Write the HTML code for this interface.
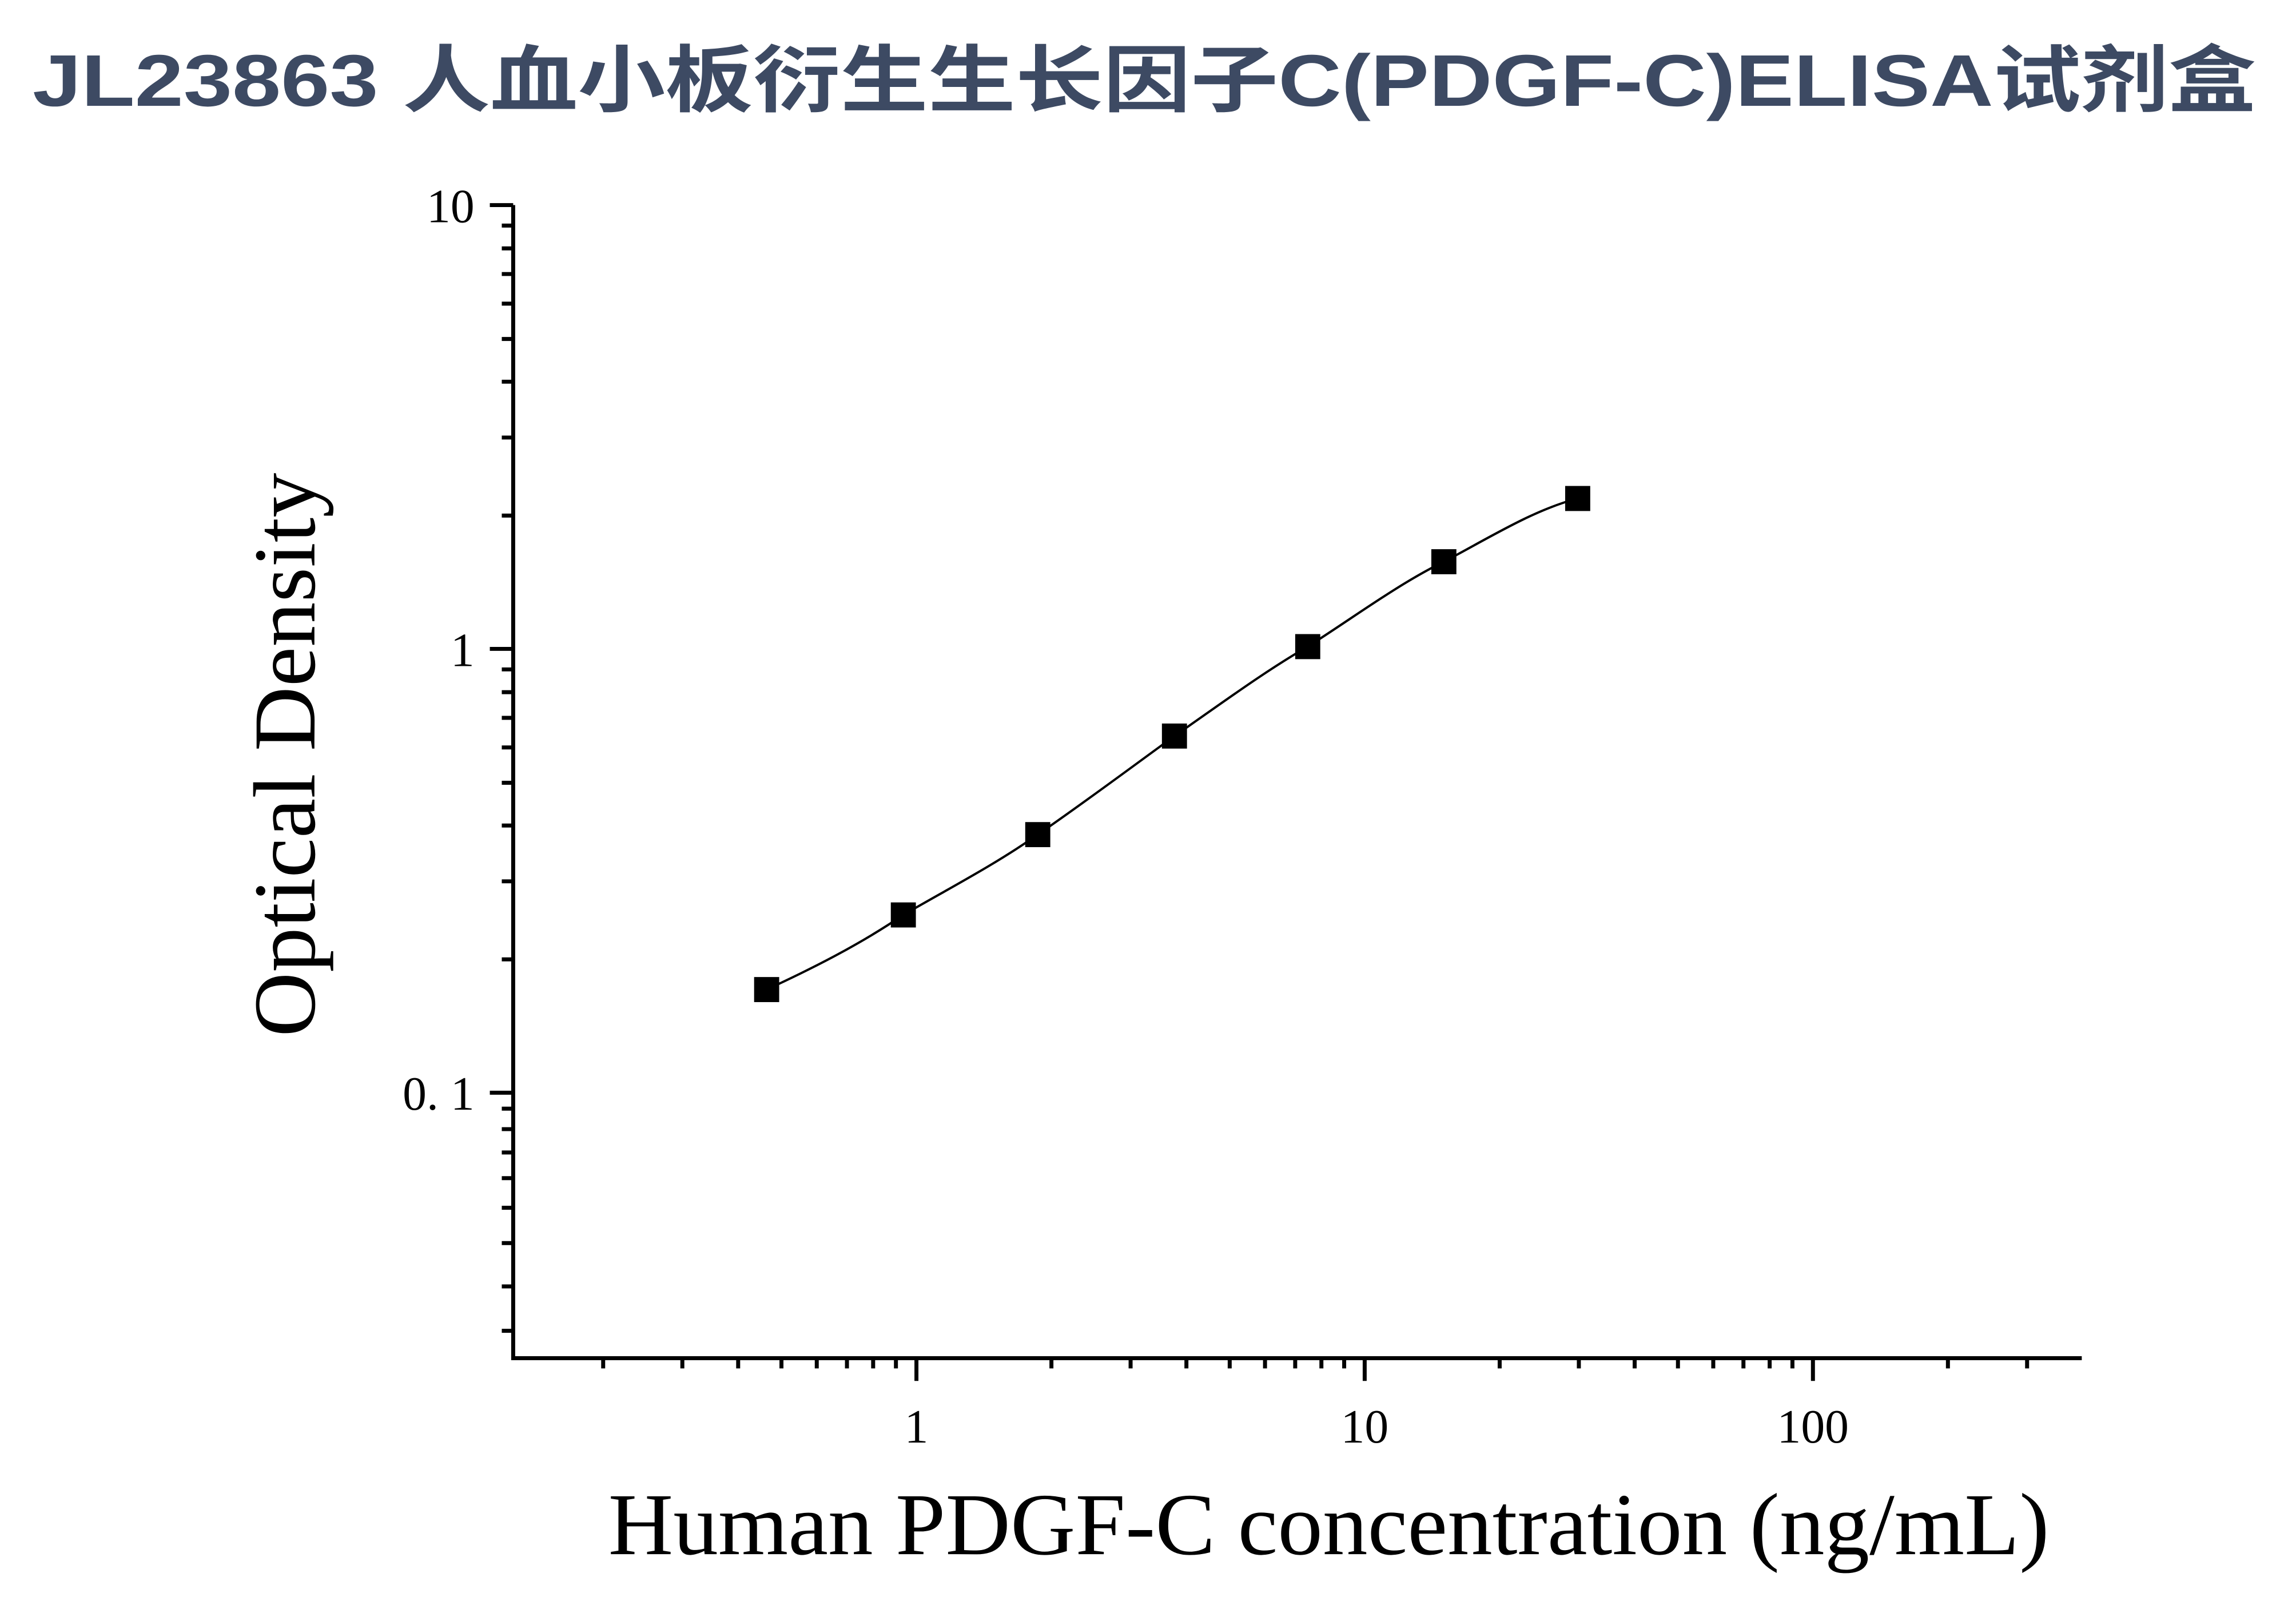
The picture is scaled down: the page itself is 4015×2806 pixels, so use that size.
<!DOCTYPE html>
<html><head><meta charset="utf-8"><style>
html,body{margin:0;padding:0;background:#fff;}
svg{display:block;}
</style></head><body>
<svg width="4015" height="2806" viewBox="0 0 4015 2806" xmlns="http://www.w3.org/2000/svg">
<rect width="4015" height="2806" fill="#fff"/>
<text x="57" y="185" font-family="'Liberation Sans','Noto Sans CJK SC',sans-serif" font-weight="bold" font-size="128" fill="#3d4a63" textLength="3888" lengthAdjust="spacingAndGlyphs">JL23863 人血小板衍生生长因子C(PDGF-C)ELISA试剂盒</text>
<g transform="scale(0.996)">
<g stroke="#000" stroke-width="7" fill="none">
<path d="M901 360 V2384 H3655"/>
<path d="M860 360H901 M860 1139H901 M860 1918H901"/>
<path d="M881 2336H901 M881 2258H901 M881 2182H901 M881 2120H901 M881 2068H901 M881 2023H901 M881 1982H901 M881 1946H901
M881 1684H901 M881 1547H901 M881 1449H901 M881 1374H901 M881 1312H901 M881 1260H901 M881 1215H901 M881 1175H901
M881 905H901 M881 768H901 M881 670H901 M881 595H901 M881 533H901 M881 481H901 M881 436H901 M881 396H901"/>
<path d="M1609 2384V2424 M2396 2384V2424 M3183 2384V2424"/>
<path d="M1059 2384V2402 M1198 2384V2402 M1296 2384V2402 M1372 2384V2402 M1434 2384V2402 M1487 2384V2402 M1533 2384V2402 M1573 2384V2402
M1846 2384V2402 M1985 2384V2402 M2083 2384V2402 M2159 2384V2402 M2221 2384V2402 M2274 2384V2402 M2320 2384V2402 M2360 2384V2402
M2633 2384V2402 M2772 2384V2402 M2870 2384V2402 M2946 2384V2402 M3008 2384V2402 M3061 2384V2402 M3107 2384V2402 M3147 2384V2402
M3420 2384V2402 M3559 2384V2402"/>
</g>
<g font-family="'Liberation Serif',serif" font-size="84" fill="#000">
<text x="833" y="390" text-anchor="end">10</text>
<text x="833" y="1169" text-anchor="end">1</text>
<text x="833" y="1948" text-anchor="end">0. 1</text>
<text x="1609" y="2532" text-anchor="middle">1</text>
<text x="2396" y="2532" text-anchor="middle">10</text>
<text x="3183" y="2532" text-anchor="middle">100</text>
</g>
<text x="2333" y="2728" text-anchor="middle" font-family="'Liberation Serif',serif" font-size="155" fill="#000" textLength="2530" lengthAdjust="spacingAndGlyphs">Human PDGF-C concentration (ng/mL)</text>
<text transform="translate(552,1325) rotate(-90)" text-anchor="middle" font-family="'Liberation Serif',serif" font-size="155" fill="#000" textLength="990" lengthAdjust="spacingAndGlyphs">Optical Density</text>
<path d="M1346 1737 C1426 1700 1506 1660 1586 1606 C1665 1560 1743 1520 1822 1465 C1902 1410 1982 1350 2062 1292 C2140 1238 2218 1180 2296 1135 C2375 1085 2455 1025 2535 986 C2613 945 2692 895 2770 875" fill="none" stroke="#000" stroke-width="4"/>
<g fill="#000">
<rect x="1324" y="1715" width="44" height="44"/>
<rect x="1564" y="1584" width="44" height="44"/>
<rect x="1800" y="1443" width="44" height="44"/>
<rect x="2040" y="1270" width="44" height="44"/>
<rect x="2274" y="1113" width="44" height="44"/>
<rect x="2513" y="964" width="44" height="44"/>
<rect x="2748" y="853" width="44" height="44"/>
</g>
</g>
</svg>
</body></html>
